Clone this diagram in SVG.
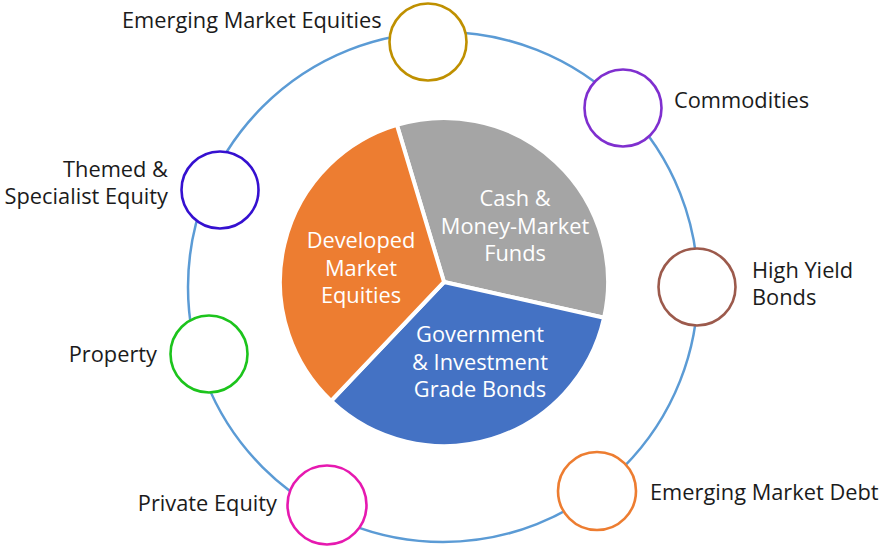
<svg xmlns="http://www.w3.org/2000/svg" width="885" height="552" viewBox="0 0 885 552">
<style>
.lbl{font-family:"Open Sans","Noto Sans","DejaVu Sans",sans-serif;font-size:21.8px;fill:#1b1b1b}
.pl{font-family:"Open Sans","Noto Sans","DejaVu Sans",sans-serif;font-size:21.8px;fill:#ffffff;text-anchor:middle}
.end{text-anchor:end}
.sc{fill:#ffffff;stroke-width:2.6}
.seg{stroke:#ffffff;stroke-width:4;stroke-linejoin:miter}
</style>
<rect width="885" height="552" fill="#ffffff"/>
<g id="connectors">
<circle cx="443" cy="287" r="255" fill="none" stroke="#5B9BD5" stroke-width="2.5"/>
</g>
<g id="pie">
<g id="cash">
<path class="seg" fill="#A5A5A5" d="M444,282 L396.9,124.9 A164,164 0 0 1 604.1,317.8 Z"/>
<text class="pl" x="515" y="206">Cash &amp;</text>
<text class="pl" x="515" y="233.5">Money-Market</text>
<text class="pl" x="515" y="261">Funds</text>
</g>
<g id="government">
<path class="seg" fill="#4472C4" d="M444,282 L604.1,317.8 A164,164 0 0 1 331.1,401 Z"/>
<text class="pl" x="480" y="342">Government</text>
<text class="pl" x="480" y="369.5">&amp; Investment</text>
<text class="pl" x="480" y="397">Grade Bonds</text>
</g>
<g id="developed">
<path class="seg" fill="#ED7D31" d="M444,282 L331.1,401 A164,164 0 0 1 396.9,124.9 Z"/>
<text class="pl" x="361" y="248">Developed</text>
<text class="pl" x="361" y="275.5">Market</text>
<text class="pl" x="361" y="303">Equities</text>
</g>
</g>
<g id="emerging-market-equities">
<circle class="sc" cx="428" cy="42" r="38.5" stroke="#BF9000"/>
<text class="lbl" x="122" y="28">Emerging Market Equities</text>
</g>
<g id="commodities">
<circle class="sc" cx="623" cy="108" r="38.5" stroke="#7F2FCF"/>
<text class="lbl" x="674" y="108">Commodities</text>
</g>
<g id="high-yield-bonds">
<circle class="sc" cx="697" cy="287" r="38.5" stroke="#9C5A4C"/>
<text class="lbl" x="752" y="278">High Yield</text>
<text class="lbl" x="752" y="305">Bonds</text>
</g>
<g id="emerging-market-debt">
<circle class="sc" cx="597" cy="491" r="39" stroke="#ED7D31"/>
<text class="lbl" x="650" y="500">Emerging Market Debt</text>
</g>
<g id="private-equity">
<circle class="sc" cx="327" cy="505" r="39.5" stroke="#E619B0"/>
<text class="lbl end" x="277" y="511">Private Equity</text>
</g>
<g id="property">
<circle class="sc" cx="209" cy="354" r="38.5" stroke="#1CC41C"/>
<text class="lbl end" x="157" y="362">Property</text>
</g>
<g id="themed-specialist-equity">
<circle class="sc" cx="220" cy="190" r="38.5" stroke="#3510D0"/>
<text class="lbl end" x="168" y="177">Themed &amp;</text>
<text class="lbl end" x="168" y="204">Specialist Equity</text>
</g>
</svg>
